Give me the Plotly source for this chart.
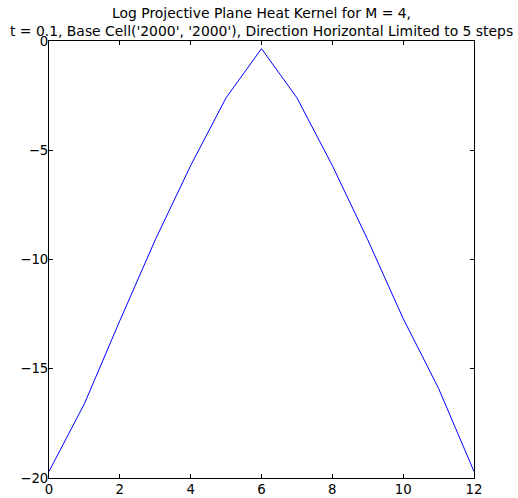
import plotly.graph_objects as go

x_steps = list(range(13))
log_kernel = [-19.7, -16.6, -12.8, -9.1, -5.7, -2.6, -0.35, -2.6, -5.7, -9.1, -12.7, -15.9, -19.7]
x_ticks = [0, 2, 4, 6, 8, 10, 12]
y_ticks = [0, -5, -10, -15, -20]
title_lines = ["Log Projective Plane Heat Kernel for M = 4,",
               "t = 0.1, Base Cell('2000', '2000'), Direction Horizontal Limited to 5 steps"]

fig = go.Figure()
fig.add_trace(go.Scatter(x=x_steps, y=log_kernel, mode="lines",
                         line=dict(color="#0000ff", width=1), showlegend=False))

axis_common = dict(showgrid=False, zeroline=False, showline=True, linecolor="black",
                   linewidth=1, mirror="ticks", ticks="inside", ticklen=4,
                   tickcolor="black", tickwidth=1, automargin=False,
                   tickfont=dict(family="DejaVu Sans", size=13.3, color="black"))

fig.update_xaxes(range=[0, 12], tickvals=x_ticks, ticktext=[str(v) for v in x_ticks],
                 ticklabelstandoff=-1, **axis_common)
fig.update_yaxes(range=[-20, 0], tickvals=y_ticks,
                 ticktext=[("\u2212" + str(-v)) if v < 0 else str(v) for v in y_ticks],
                 ticklabelstandoff=-3, **axis_common)

fig.add_annotation(text="<br>".join(title_lines), xref="paper", yref="paper",
                   x=0.5, y=1, xanchor="center", yanchor="bottom", yshift=0,
                   showarrow=False, align="center",
                   font=dict(family="DejaVu Sans", size=13.9, color="black"))

fig.update_layout(width=518, height=498, margin=dict(l=49, r=44, t=41, b=20),
                  paper_bgcolor="white", plot_bgcolor="white",
                  font=dict(family="DejaVu Sans", color="black"))

fig.write_html("out.html", config={"displayModeBar": False},
               post_script="document.body.style.margin='0';")
